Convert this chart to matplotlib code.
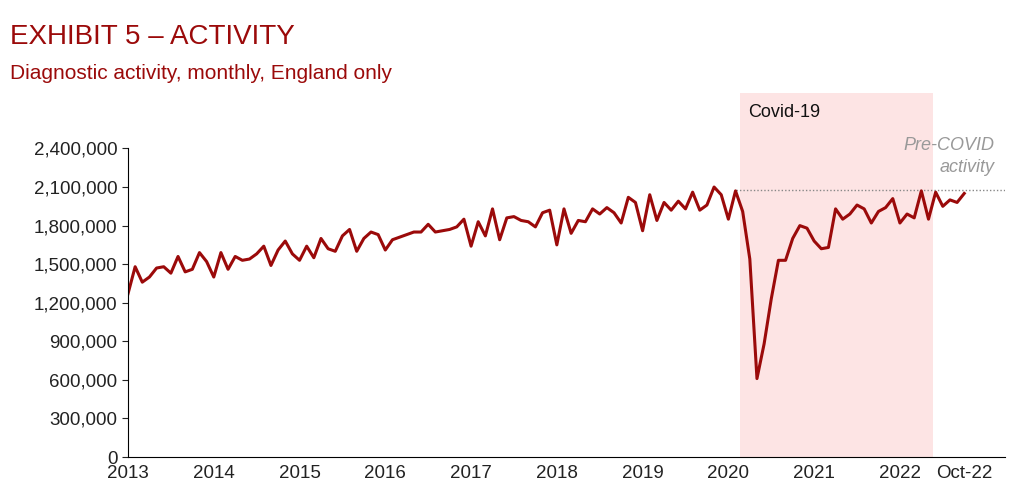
import numpy as np
import matplotlib.pyplot as plt
from matplotlib.ticker import FuncFormatter

plt.rcParams['font.family'] = ['Liberation Sans', 'DejaVu Sans']

# monthly diagnostic activity, Jan 2013 - Oct 2022 (millions)
activity_m = [
    1.27, 1.48, 1.36, 1.40, 1.47, 1.48, 1.43, 1.56, 1.44, 1.46, 1.59, 1.52,
    1.40, 1.59, 1.46, 1.56, 1.53, 1.54, 1.58, 1.64, 1.49, 1.61, 1.68, 1.58,
    1.53, 1.64, 1.55, 1.70, 1.62, 1.60, 1.72, 1.77, 1.60, 1.70, 1.75, 1.73,
    1.61, 1.69, 1.71, 1.73, 1.75, 1.75, 1.81, 1.75, 1.76, 1.77, 1.79, 1.85,
    1.64, 1.83, 1.72, 1.93, 1.69, 1.86, 1.87, 1.84, 1.83, 1.79, 1.90, 1.92,
    1.65, 1.93, 1.74, 1.84, 1.83, 1.93, 1.89, 1.94, 1.90, 1.82, 2.02, 1.98,
    1.76, 2.04, 1.84, 1.98, 1.92, 1.99, 1.93, 2.06, 1.92, 1.96, 2.10, 2.04,
    1.85, 2.07, 1.91, 1.54, 0.61, 0.88, 1.23, 1.53, 1.53, 1.70, 1.80, 1.78,
    1.68, 1.62, 1.63, 1.93, 1.85, 1.89, 1.96, 1.93, 1.82, 1.91, 1.94, 2.01,
    1.82, 1.89, 1.86, 2.07, 1.85, 2.06, 1.95, 2.00, 1.98, 2.05,
]
pre_covid = 2.08e6
covid_start, covid_end = 2020 + 1.6 / 12, 2022 + 4.7 / 12
x_labels = ['2013', '2014', '2015', '2016', '2017', '2018', '2019', '2020', '2021', '2022', 'Oct-22']

red = '#9b0a0a'
vals = np.array(activity_m) * 1e6
t = 2013 + np.arange(len(vals)) / 12

fig = plt.figure(figsize=(10.24, 4.93), dpi=100)
ax = fig.add_axes([0.125, 0.073, 0.856, 0.738])

ax.axvspan(covid_start, covid_end, color='#fde4e4', lw=0, zorder=0)
ax.plot([t[85], 2023.3], [pre_covid, pre_covid], ls=(0, (1, 1.5)), color='#888888', lw=1, zorder=1)
ax.plot(t, vals, color=red, lw=2.2, zorder=2)

ax.set_xlim(2013, 2023.22)
ax.set_ylim(0, 2.83e6)
ax.set_yticks(np.arange(0, 2.41e6, 3e5))
ax.yaxis.set_major_formatter(FuncFormatter(lambda v, p: f'{int(v):,}'))
ticks = list(range(2013, 2023)) + [t[-1]]
ax.set_xticks(ticks)
ax.set_xticklabels(x_labels)
ax.tick_params(labelsize=13.5, length=4, colors='#222222')
ax.tick_params(axis='x', length=0, pad=6)
for s in ['top', 'right']:
    ax.spines[s].set_visible(False)
ax.spines['left'].set_bounds(0, 2.4e6)

ax.text(covid_start + 0.1, 2.68e6, 'Covid-19', fontsize=13, color='#111111', va='center')
ax.text(2023.1, 2.42e6, 'Pre-COVID', fontsize=13, color='#999999', style='italic', ha='right', va='center')
ax.text(2023.1, 2.25e6, 'activity', fontsize=13, color='#999999', style='italic', ha='right', va='center')

fig.text(0.01, 0.925, 'EXHIBIT 5 – ACTIVITY', fontsize=20, color=red, va='center')
fig.text(0.01, 0.85, 'Diagnostic activity, monthly, England only', fontsize=15, color=red, va='center')

fig.savefig('out.png', dpi=100)
